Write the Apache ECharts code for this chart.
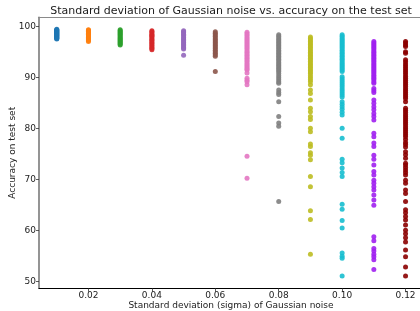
<!DOCTYPE html>
<html>
<head>
<meta charset="utf-8">
<script src="https://cdn.jsdelivr.net/npm/echarts@6/dist/echarts.min.js"></script>
<style>html,body{margin:0;padding:0;background:#fff;}#c{width:420px;height:311px;}</style>
</head>
<body>
<div id="c"></div>
<script>
const sigmas = [0.01, 0.02, 0.03, 0.04, 0.05, 0.06, 0.07, 0.08, 0.09, 0.10, 0.11, 0.12];
const colors = ['#1f77b4','#ff7f0e','#2ca02c','#d62728','#9467bd','#8c564b','#e377c2','#7f7f7f','#bcbd22','#17becf','#a020f0','#8b0000'];
const xTicks = [0.02, 0.04, 0.06, 0.08, 0.10, 0.12];
const yTicks = [50, 60, 70, 80, 90, 100];

const acc001 = [99.5,99.4,99.3,99.2,99.1,99.0,98.9,98.8,98.7,98.6,98.5,98.4,98.3,98.2,98.1,98.0,97.9,97.8,97.7,97.6];
const acc002 = [99.4,99.3,99.1,99.0,98.8,98.7,98.5,98.4,98.2,98.0,97.9,97.7,97.5,97.3,97.1];
const acc003 = [99.4,99.2,99.0,98.8,98.6,98.4,98.2,98.0,97.8,97.6,97.4,97.2,97.0,96.8,96.6,96.4];
const acc004 = [99.2,99.0,98.8,98.5,98.3,98.1,97.9,97.6,97.4,97.2,96.9,96.7,96.4,96.2,95.9,95.7,95.5];
const acc005 = [99.2,99.0,98.8,98.5,98.3,98.0,97.8,97.5,97.3,97.0,96.8,96.5,96.3,96.0,95.8,95.6,94.4];
const acc006 = [99.0,98.7,98.4,98.1,97.8,97.5,97.2,96.9,96.6,96.3,96.0,95.7,95.4,95.1,94.8,94.5,94.2,91.2];
const acc007 = [98.9,98.6,98.3,98.0,97.7,97.4,97.1,96.8,96.5,96.2,95.9,95.6,95.3,95.0,94.7,94.4,94.1,93.8,93.5,93.2,92.9,92.6,92.3,92.0,91.7,91.5,90.9,89.9,89.5,89.2,88.6,74.6,70.3];
const acc008 = [98.4,98.1,97.8,97.5,97.2,96.9,96.6,96.3,96.0,95.7,95.4,95.1,94.8,94.5,94.2,93.9,93.6,93.3,93.0,92.7,92.4,92.1,91.8,91.5,91.2,90.8,90.4,90.0,89.6,89.2,88.9,87.6,87.1,86.7,85.3,82.4,81.1,80.5,65.7];
const acc009 = [98.0,97.7,97.4,97.1,96.8,96.5,96.2,95.9,95.6,95.3,95.0,94.7,94.4,94.1,93.8,93.5,93.2,92.9,92.6,92.3,92.0,91.7,91.4,91.1,90.8,90.4,90.0,89.6,89.2,88.6,87.6,86.9,85.6,84.0,83.3,82.4,81.8,80.1,79.4,77.0,76.5,75.3,74.8,73.9,70.6,68.6,63.9,62.2,55.4];
const acc010 = [98.4,98.1,97.8,97.5,97.2,96.9,96.6,96.3,96.0,95.7,95.4,95.1,94.8,94.5,94.2,93.9,93.6,93.3,93.0,92.7,92.4,92.1,91.8,91.5,91.2,90.2,89.8,89.4,89.0,88.6,88.2,87.8,87.4,87.0,86.6,86.2,85.3,84.8,84.3,83.8,83.2,82.7,80.1,78.1,74.0,73.3,72.3,71.4,70.6,65.2,64.2,62.0,60.5,55.6,55.0,54.6,51.1];
const acc011 = [97.1,96.8,96.5,96.2,95.9,95.6,95.3,95.0,94.7,94.4,94.1,93.8,93.5,93.2,92.9,92.6,92.3,92.0,91.7,91.4,91.1,90.8,90.5,90.2,89.9,89.6,89.2,88.9,87.9,87.5,87.1,85.6,85.0,84.3,83.7,83.0,82.4,81.7,79.1,78.4,77.2,76.5,74.8,74.0,72.9,71.6,70.9,69.9,69.3,68.6,68.0,67.0,66.0,65.0,58.8,58.0,56.5,56.0,55.4,54.9,54.3,52.4];
const acc012 = [97.1,96.8,96.4,96.1,95.1,94.8,93.5,93.1,92.7,92.3,91.9,91.5,91.1,90.7,90.3,89.9,89.5,89.1,88.7,88.3,87.9,87.5,87.1,86.7,86.3,85.9,85.3,84.0,83.6,83.2,82.8,82.4,82.0,81.6,81.2,80.8,80.4,80.0,79.6,79.2,78.8,78.4,77.9,77.3,76.9,76.4,75.5,74.9,74.2,73.2,72.9,72.4,71.9,71.4,70.9,69.9,69.3,68.0,67.3,65.7,64.1,63.5,62.8,62.1,61.1,60.1,59.4,58.6,57.8,56.2,54.9,52.9,51.1];

const accs = [acc001, acc002, acc003, acc004, acc005, acc006, acc007, acc008, acc009, acc010, acc011, acc012];

const series = sigmas.map((s, i) => ({
  type: 'scatter',
  xAxisIndex: 0,
  yAxisIndex: 0,
  symbol: 'circle',
  symbolSize: 5,
  itemStyle: { color: colors[i], opacity: 0.9 },
  data: accs[i].map(v => [s, v])
}));

const FONT = 'DejaVu Sans';
const chart = echarts.init(document.getElementById('c'), null, { renderer: 'canvas' });
chart.setOption({
  animation: false,
  backgroundColor: '#ffffff',
  textStyle: { fontFamily: FONT },
  grid: { left: 39, right: -3, top: 17.3, bottom: 22.7, containLabel: false, outerBoundsMode: 'none' },
  graphic: [{
    type: 'text',
    x: 231, y: 11.5,
    style: {
      text: 'Standard deviation of Gaussian noise vs. accuracy on the test set',
      font: '11px "DejaVu Sans"',
      fill: '#1a1a1a',
      textAlign: 'center',
      textVerticalAlign: 'middle'
    }
  }],
  xAxis: [{
    type: 'value',
    min: 0.0044,
    max: 0.1255,
    position: 'bottom',
    name: 'Standard deviation (sigma) of Gaussian noise',
    nameLocation: 'middle',
    nameGap: 12.5,
    nameMoveOverlap: false,
    nameTextStyle: { fontFamily: FONT, fontSize: 9, color: '#222' },
    splitLine: { show: false },
    axisLine: { show: true, onZero: false, lineStyle: { color: '#000', width: 1.2 } },
    axisTick: { show: true, length: 3.5, customValues: xTicks, lineStyle: { color: '#333', width: 0.8 } },
    axisLabel: { show: true, customValues: xTicks, margin: 3, fontFamily: FONT, fontSize: 9, color: '#222', formatter: v => v.toFixed(2) }
  }, {
    type: 'value',
    min: 0.0044,
    max: 0.1255,
    position: 'top',
    splitLine: { show: false },
    axisLine: { show: true, onZero: false, lineStyle: { color: '#8a8a8a', width: 1.2 } },
    axisTick: { show: false },
    axisLabel: { show: false }
  }],
  yAxis: [{
    type: 'value',
    min: 48.7,
    max: 101.84,
    name: 'Accuracy on test set',
    nameLocation: 'middle',
    nameGap: 22,
    nameMoveOverlap: false,
    nameTextStyle: { fontFamily: FONT, fontSize: 9, color: '#222' },
    splitLine: { show: false },
    axisLine: { show: true, onZero: false, lineStyle: { color: '#7a7a7a', width: 1.6 } },
    axisTick: { show: true, length: 3, customValues: yTicks, lineStyle: { color: '#333', width: 0.8 } },
    axisLabel: { show: true, customValues: yTicks, margin: 3, fontFamily: FONT, fontSize: 9, color: '#222' }
  }],
  series: series
});
</script>
</body>
</html>
